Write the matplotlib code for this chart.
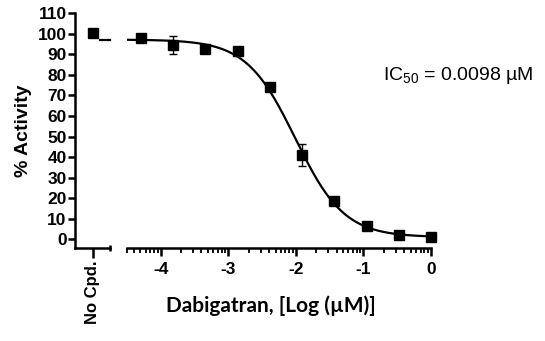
import numpy as np
import matplotlib
matplotlib.use("Agg")
import matplotlib.pyplot as plt

# 3-fold dilution series, log10(uM)
log_conc = [-4.294, -3.817, -3.340, -2.863, -2.386, -1.908, -1.431, -0.954, -0.477, 0.0]
activity = [98.2, 94.5, 92.6, 91.8, 74.3, 41.0, 18.6, 6.6, 2.0, 1.0]
activity_err = [0.8, 4.4, 1.0, 1.2, 1.0, 5.2, 1.0, 0.8, 0.6, 0.5]
no_cpd = 100.2
no_cpd_err = 0.8

# 4PL fit params
top, bottom, log_ic50, hill = 97.2, 1.0, -2.009, 1.2


def four_pl(x):
    return bottom + (top - bottom) / (1 + 10 ** ((x - log_ic50) * hill))


arial = ['Liberation Sans', 'DejaVu Sans']
plt.rcParams['font.family'] = arial
plt.rcParams['mathtext.fontset'] = 'custom'
plt.rcParams['mathtext.rm'] = 'Liberation Sans'
plt.rcParams['mathtext.it'] = 'Liberation Sans:italic'
plt.rcParams['mathtext.bf'] = 'Liberation Sans:bold'
plt.rcParams['mathtext.default'] = 'regular'
fig = plt.figure(figsize=(5.45, 3.41), dpi=100)

ax0 = fig.add_axes([75 / 545, 93 / 341, 35 / 545, 234.7 / 341])
ax1 = fig.add_axes([127 / 545, 93 / 341, 304 / 545, 234.7 / 341])

lw = 1.8
for ax in (ax0, ax1):
    ax.set_ylim(-4.3, 110)
    ax.spines['top'].set_visible(False)
    ax.spines['right'].set_visible(False)
    ax.spines['bottom'].set_linewidth(lw)
    ax.spines['left'].set_linewidth(lw)
    ax.patch.set_alpha(0)

# left segment: No Cpd.
ax0.set_xlim(0, 1)
ax0.errorbar([0.5], [no_cpd], yerr=[no_cpd_err], fmt='s', color='black',
             ms=7.5, capsize=2, elinewidth=1)
ax0.plot([0.72, 1.0], [four_pl(-6), four_pl(-6)], color='black', lw=1.6, clip_on=False)
ax0.set_yticks(np.arange(0, 111, 10))
ax0.set_yticklabels([str(v) for v in range(0, 111, 10)], fontweight='bold', fontsize=12.5)
ax0.set_xticks([0.5])
ax0.set_xticklabels(['No Cpd.'], rotation=90, fontweight='bold', fontsize=12)
ax0.set_xticks([1.0], minor=True)
ax0.tick_params(axis='y', width=lw, length=5, pad=1)
ax0.tick_params(axis='x', which='major', width=lw, length=7, pad=2)
ax0.tick_params(axis='x', which='minor', width=lw, length=5, direction='inout')
ax0.set_ylabel('% Activity', fontweight='bold', fontsize=14, labelpad=4)

# right segment: dose response
ax1.set_xlim(-4.5, 0)
ax1.spines['left'].set_visible(False)
ax1.set_yticks([])
xs = np.linspace(-4.5, 0, 300)
ax1.plot(xs, four_pl(xs), color='black', lw=1.6)
ax1.errorbar(log_conc, activity, yerr=activity_err, fmt='s', color='black',
             ms=7.5, capsize=3, elinewidth=1, clip_on=False)
ax1.set_xticks([-4, -3, -2, -1, 0])
ax1.set_xticklabels(['-4', '-3', '-2', '-1', '0'], fontweight='bold', fontsize=12.5)
minor = [-4.5]
for d in range(-5, 0):
    for k in range(2, 10):
        v = d + np.log10(k)
        if -4.5 < v < 0:
            minor.append(v)
ax1.set_xticks(minor, minor=True)
ax1.tick_params(axis='x', which='major', width=lw, length=6, pad=4)
ax1.tick_params(axis='x', which='minor', width=1.3, length=3.5)
ax1.set_xlabel('Dabigatran, [Log (\u00b5M)]', fontweight='bold', fontsize=15,
               family=['Lato', 'DejaVu Sans'])
ax1.xaxis.set_label_coords(0.474, -0.2)

fig.text(383 / 545, 1 - 75 / 341, 'IC$_{50}$ = 0.0098 \u00b5M',
         fontsize=14, va='center', ha='left')

fig.savefig('out.png', dpi=100)
